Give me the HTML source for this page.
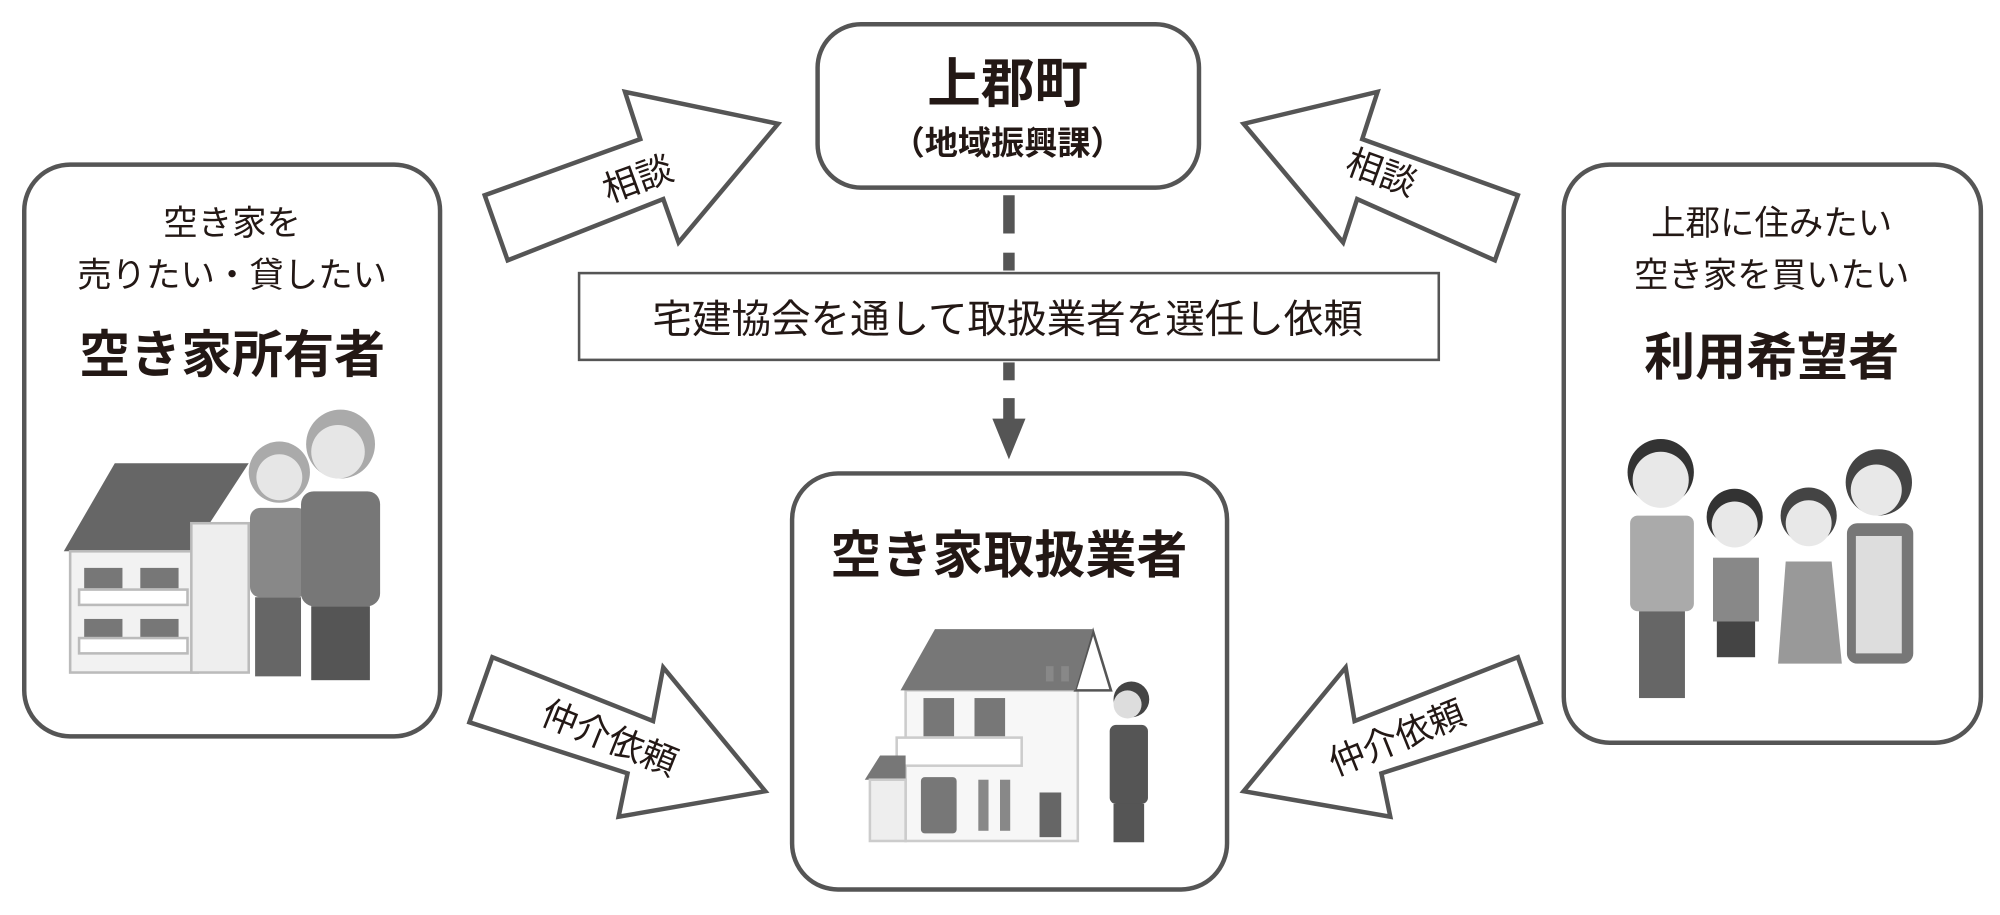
<!DOCTYPE html>
<html><head><meta charset="utf-8"><style>
html,body{margin:0;padding:0;background:#fff;}
svg{display:block;}
text{font-family:"Liberation Sans","Noto Sans CJK JP",sans-serif;fill:#231815;}
.b{font-weight:bold;}
</style></head><body>
<svg width="2000" height="915" viewBox="0 0 1568 717" preserveAspectRatio="none" xmlns="http://www.w3.org/2000/svg">
<rect width="1568" height="717" fill="#fff"/>
<g fill="none" stroke="#555" stroke-width="3.5">
<rect x="19" y="129" width="326" height="448" rx="36"/>
<rect x="641" y="19" width="299" height="128" rx="34"/>
<rect x="621" y="371" width="341" height="326" rx="36"/>
<rect x="1226" y="129" width="327" height="453" rx="36"/>
</g>
<rect x="454" y="214" width="674" height="68" fill="#fff" stroke="#555" stroke-width="2"/>
<g stroke="#555" stroke-width="9">
<line x1="791" y1="153" x2="791" y2="183"/>
<line x1="791" y1="198" x2="791" y2="212"/>
<line x1="791" y1="284" x2="791" y2="298"/>
<line x1="791" y1="312" x2="791" y2="330"/>
</g>
<polygon points="778,328 804,328 791,360" fill="#555"/>
<g fill="#fff" stroke="#555" stroke-width="3.5" stroke-linejoin="miter">
<polygon points="380,153 502,109 490,72 610,97 532,190 520,156 398,204"/>
<polygon points="1190,153 1068,109 1080,72 975,97 1053,190 1064,156 1172,204"/>
<polygon points="386,515 512,565 520,523 600,620 485,640 492,606 368,566"/>
<polygon points="1190,515 1062,565 1055,523 975,620 1090,640 1083,606 1208,566"/>
</g>
<text x="500" y="150" font-size="28" text-anchor="middle" transform="rotate(-20 500 140)">相談</text>
<text x="1083" y="145" font-size="28" text-anchor="middle" transform="rotate(20 1083 135)">相談</text>
<text x="478" y="588" font-size="28" text-anchor="middle" transform="rotate(22 478 578)">仲介依頼</text>
<text x="1095" y="588" font-size="28" text-anchor="middle" transform="rotate(-22 1095 578)">仲介依頼</text>
<text x="790" y="80" font-size="42" class="b" text-anchor="middle">上郡町</text>
<text x="790" y="121" font-size="26" class="b" text-anchor="middle">（地域振興課）</text>
<text x="790" y="261" font-size="31" text-anchor="middle">宅建協会を通して取扱業者を選任し依頼</text>
<text x="182" y="184" font-size="27" text-anchor="middle">空き家を</text>
<text x="182" y="225" font-size="27" text-anchor="middle">売りたい・貸したい</text>
<text x="182" y="292" font-size="40" class="b" text-anchor="middle">空き家所有者</text>
<text x="1389" y="184" font-size="27" text-anchor="middle">上郡に住みたい</text>
<text x="1389" y="225" font-size="27" text-anchor="middle">空き家を買いたい</text>
<text x="1389" y="294" font-size="40" class="b" text-anchor="middle">利用希望者</text>
<text x="791" y="449" font-size="40" class="b" text-anchor="middle">空き家取扱業者</text>
<g>
<polygon points="50,432 90,363 195,363 150,432" fill="#666"/>
<rect x="55" y="432" width="100" height="95" fill="#f2f2f2" stroke="#bbb" stroke-width="2"/>
<rect x="150" y="410" width="45" height="117" fill="#eee" stroke="#bbb" stroke-width="2"/>
<rect x="66" y="445" width="30" height="16" fill="#777"/><rect x="110" y="445" width="30" height="16" fill="#777"/>
<rect x="62" y="462" width="85" height="12" fill="#fff" stroke="#bbb" stroke-width="2"/>
<rect x="66" y="485" width="30" height="16" fill="#777"/><rect x="110" y="485" width="30" height="16" fill="#777"/>
<rect x="62" y="500" width="85" height="12" fill="#fff" stroke="#bbb" stroke-width="2"/>
<circle cx="219" cy="370" r="24" fill="#aaa"/><circle cx="219" cy="374" r="18" fill="#e6e6e6"/>
<rect x="196" y="398" width="45" height="70" rx="8" fill="#888"/>
<rect x="200" y="468" width="36" height="62" fill="#666"/>
<circle cx="267" cy="348" r="27" fill="#aaa"/><circle cx="265" cy="354" r="21" fill="#e6e6e6"/>
<rect x="236" y="385" width="62" height="90" rx="10" fill="#777"/>
<rect x="244" y="475" width="46" height="58" fill="#555"/>
</g>
<g>
<rect x="710" y="541" width="135" height="118" fill="#f7f7f7" stroke="#ccc" stroke-width="2"/>
<polygon points="843,541 857,495 871,541" fill="#fff" stroke="#555" stroke-width="2"/>
<polygon points="706,541 733,493 857,493 843,541" fill="#777"/>
<rect x="724" y="547" width="24" height="30" fill="#777"/><rect x="764" y="547" width="24" height="30" fill="#777"/>
<rect x="820" y="522" width="6" height="12" fill="#888"/><rect x="832" y="522" width="6" height="12" fill="#888"/>
<rect x="703" y="578" width="98" height="22" fill="#fff" stroke="#ccc" stroke-width="2"/>
<rect x="722" y="609" width="28" height="44" rx="3" fill="#777"/>
<rect x="767" y="611" width="8" height="40" fill="#888"/><rect x="784" y="611" width="8" height="40" fill="#888"/>
<rect x="815" y="621" width="17" height="35" fill="#666"/>
<polygon points="678,611 690,592 710,592 710,611" fill="#777"/>
<rect x="682" y="611" width="28" height="48" fill="#eee" stroke="#ccc" stroke-width="2"/>
<circle cx="887" cy="548" r="14" fill="#444"/><circle cx="884" cy="552" r="11" fill="#ddd"/>
<rect x="870" y="568" width="30" height="62" rx="5" fill="#555"/>
<rect x="873" y="630" width="24" height="30" fill="#555"/>
</g>
<g>
<circle cx="1302" cy="370" r="26" fill="#333"/><circle cx="1302" cy="376" r="22" fill="#e8e8e8"/>
<rect x="1278" y="404" width="50" height="75" rx="6" fill="#aaa"/>
<rect x="1285" y="479" width="36" height="68" fill="#666"/>
<circle cx="1360" cy="405" r="22" fill="#333"/><circle cx="1360" cy="411" r="18" fill="#e8e8e8"/>
<rect x="1343" y="437" width="36" height="50" fill="#888"/><rect x="1346" y="487" width="30" height="28" fill="#444"/>
<circle cx="1418" cy="404" r="22" fill="#444"/><circle cx="1418" cy="410" r="18" fill="#e8e8e8"/>
<polygon points="1400,440 1436,440 1444,520 1394,520" fill="#999"/>
<circle cx="1473" cy="378" r="26" fill="#444"/><circle cx="1471" cy="384" r="20" fill="#e8e8e8"/>
<rect x="1448" y="410" width="52" height="110" rx="8" fill="#777"/>
<rect x="1455" y="420" width="36" height="92" fill="#ddd"/>
</g>
</svg>
</body></html>
